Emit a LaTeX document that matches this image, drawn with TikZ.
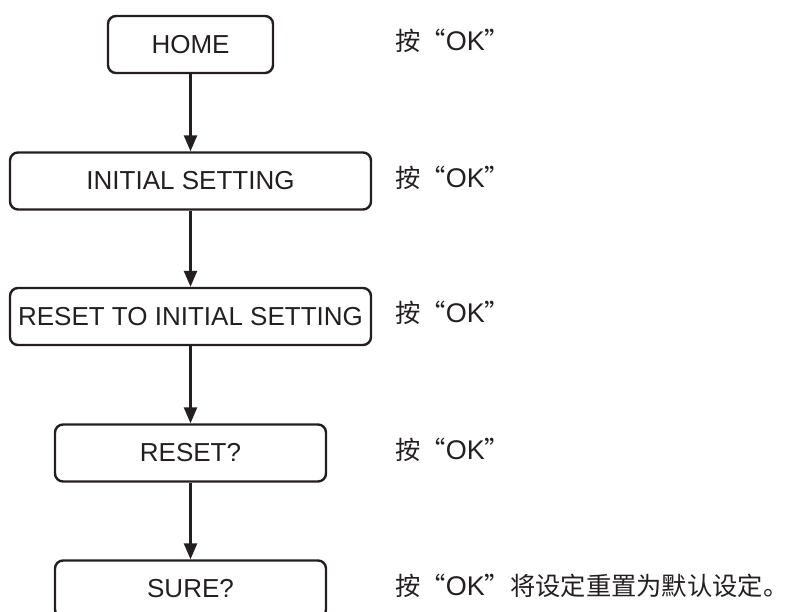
\documentclass[tikz,border=0pt]{standalone}
\usepackage{fontspec}
\setmainfont{Liberation Sans}
\newfontfamily\cjk{Noto Sans CJK SC}
\usetikzlibrary{arrows.meta}
\definecolor{ink}{HTML}{231F20}
\newcommand{\okkey}{{\cjk 按“}{\fontsize{27}{30}\selectfont OK}{\cjk ”}}

\begin{document}
\begin{tikzpicture}[x=1pt, y=-1pt, ink,
    menubox/.style={draw, line width=2.4pt, rounded corners=8pt, minimum height=57pt, inner sep=0pt, font=\fontsize{26}{30}\selectfont},
    hint/.style={anchor=west, inner sep=0pt, font=\fontsize{25.3}{30}\selectfont},
    flow/.style={-{Triangle[length=16pt,width=13pt]}, line width=2.4pt}]
    \useasboundingbox (0,0) rectangle (795,612);
    \clip (0,0) rectangle (795,612);
    % menu boxes
    \node[menubox, minimum width=165pt] (home) at (190.5, 44.5) {HOME};
    \node[menubox, minimum width=361pt] (init) at (190.5, 181) {INITIAL SETTING};
    \node[menubox, minimum width=361pt] (resetto) at (190.5, 316.5) {RESET TO INITIAL SETTING};
    \node[menubox, minimum width=271pt] (reset) at (190.5, 453) {RESET?};
    \node[menubox, minimum width=271pt] (sure) at (190.5, 589) {SURE?};
    % hints
    \node[hint] (okhome) at (395, 41) {\okkey};
    \node[hint] (okinit) at (395, 177.5) {\okkey};
    \node[hint] (okresetto) at (395, 313) {\okkey};
    \node[hint] (okreset) at (395, 449.5) {\okkey};
    \node[hint] (oksure) at (395, 585.5) {\okkey{\cjk 将设定重置为默认设定。}};
    % arrows
    \draw[flow] (home) -- (init);
    \draw[flow] (init) -- (resetto);
    \draw[flow] (resetto) -- (reset);
    \draw[flow] (reset) -- (sure);
\end{tikzpicture}
\end{document}
